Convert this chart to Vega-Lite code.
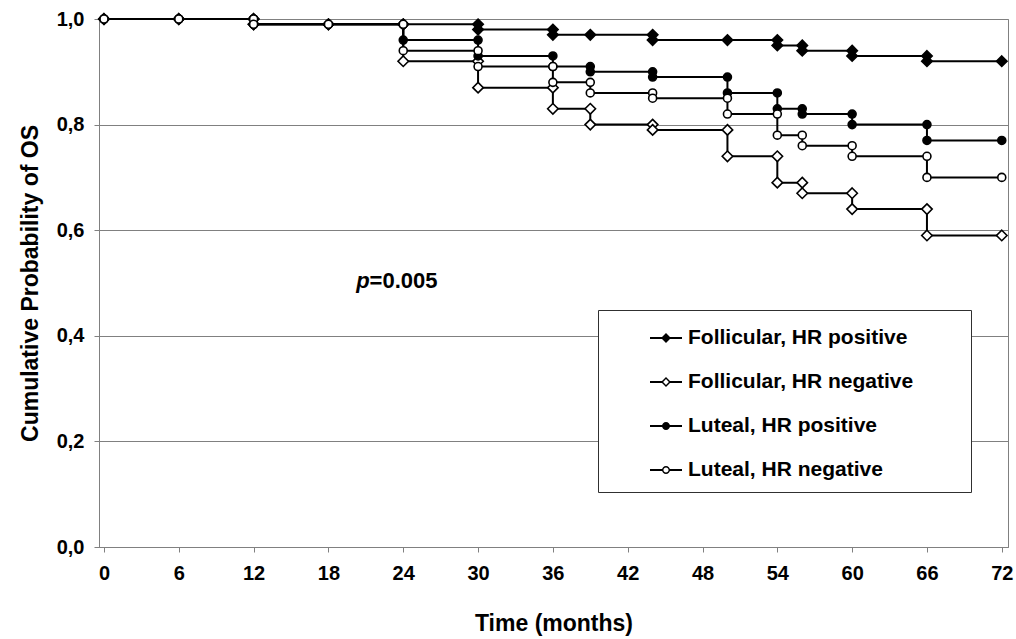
{
  "$schema": "https://vega.github.io/schema/vega-lite/v6.json",
  "width": 909,
  "height": 528,
  "autosize": {"type": "none"},
  "padding": {"left": 99, "top": 19, "right": 8, "bottom": 92},
  "background": "white",
  "config": {
    "view": {"stroke": "#808080", "strokeWidth": 1},
    "font": "Liberation Sans",
    "axis": {
      "labelFont": "Liberation Sans", "labelFontWeight": "bold", "labelFontSize": 20, "labelColor": "black",
      "titleFont": "Liberation Sans", "titleFontWeight": "bold", "titleFontSize": 23, "titleColor": "black",
      "domainColor": "#808080", "tickColor": "#808080", "gridColor": "#808080", "gridOpacity": 1
    }
  },
  "datasets": {
    "km": [
      {"g": "Follicular, HR positive", "i": 0, "t": 0, "s": 1},
      {"g": "Follicular, HR positive", "i": 1, "t": 6, "s": 1},
      {"g": "Follicular, HR positive", "i": 2, "t": 12, "s": 1},
      {"g": "Follicular, HR positive", "i": 3, "t": 12, "s": 0.99},
      {"g": "Follicular, HR positive", "i": 4, "t": 18, "s": 0.99},
      {"g": "Follicular, HR positive", "i": 5, "t": 24, "s": 0.99},
      {"g": "Follicular, HR positive", "i": 6, "t": 30, "s": 0.99},
      {"g": "Follicular, HR positive", "i": 7, "t": 30, "s": 0.98},
      {"g": "Follicular, HR positive", "i": 8, "t": 36, "s": 0.98},
      {"g": "Follicular, HR positive", "i": 9, "t": 36, "s": 0.97},
      {"g": "Follicular, HR positive", "i": 10, "t": 39, "s": 0.97},
      {"g": "Follicular, HR positive", "i": 11, "t": 44, "s": 0.97},
      {"g": "Follicular, HR positive", "i": 12, "t": 44, "s": 0.96},
      {"g": "Follicular, HR positive", "i": 13, "t": 50, "s": 0.96},
      {"g": "Follicular, HR positive", "i": 14, "t": 54, "s": 0.96},
      {"g": "Follicular, HR positive", "i": 15, "t": 54, "s": 0.95},
      {"g": "Follicular, HR positive", "i": 16, "t": 56, "s": 0.95},
      {"g": "Follicular, HR positive", "i": 17, "t": 56, "s": 0.94},
      {"g": "Follicular, HR positive", "i": 18, "t": 60, "s": 0.94},
      {"g": "Follicular, HR positive", "i": 19, "t": 60, "s": 0.93},
      {"g": "Follicular, HR positive", "i": 20, "t": 66, "s": 0.93},
      {"g": "Follicular, HR positive", "i": 21, "t": 66, "s": 0.92},
      {"g": "Follicular, HR positive", "i": 22, "t": 72, "s": 0.92},

      {"g": "Follicular, HR negative", "i": 0, "t": 0, "s": 1},
      {"g": "Follicular, HR negative", "i": 1, "t": 6, "s": 1},
      {"g": "Follicular, HR negative", "i": 2, "t": 12, "s": 1},
      {"g": "Follicular, HR negative", "i": 3, "t": 12, "s": 0.99},
      {"g": "Follicular, HR negative", "i": 4, "t": 18, "s": 0.99},
      {"g": "Follicular, HR negative", "i": 5, "t": 24, "s": 0.99},
      {"g": "Follicular, HR negative", "i": 6, "t": 24, "s": 0.92},
      {"g": "Follicular, HR negative", "i": 7, "t": 30, "s": 0.92},
      {"g": "Follicular, HR negative", "i": 8, "t": 30, "s": 0.87},
      {"g": "Follicular, HR negative", "i": 9, "t": 36, "s": 0.87},
      {"g": "Follicular, HR negative", "i": 10, "t": 36, "s": 0.83},
      {"g": "Follicular, HR negative", "i": 11, "t": 39, "s": 0.83},
      {"g": "Follicular, HR negative", "i": 12, "t": 39, "s": 0.80},
      {"g": "Follicular, HR negative", "i": 13, "t": 44, "s": 0.80},
      {"g": "Follicular, HR negative", "i": 14, "t": 44, "s": 0.79},
      {"g": "Follicular, HR negative", "i": 15, "t": 50, "s": 0.79},
      {"g": "Follicular, HR negative", "i": 16, "t": 50, "s": 0.74},
      {"g": "Follicular, HR negative", "i": 17, "t": 54, "s": 0.74},
      {"g": "Follicular, HR negative", "i": 18, "t": 54, "s": 0.69},
      {"g": "Follicular, HR negative", "i": 19, "t": 56, "s": 0.69},
      {"g": "Follicular, HR negative", "i": 20, "t": 56, "s": 0.67},
      {"g": "Follicular, HR negative", "i": 21, "t": 60, "s": 0.67},
      {"g": "Follicular, HR negative", "i": 22, "t": 60, "s": 0.64},
      {"g": "Follicular, HR negative", "i": 23, "t": 66, "s": 0.64},
      {"g": "Follicular, HR negative", "i": 24, "t": 66, "s": 0.59},
      {"g": "Follicular, HR negative", "i": 25, "t": 72, "s": 0.59},

      {"g": "Luteal, HR positive", "i": 0, "t": 0, "s": 1},
      {"g": "Luteal, HR positive", "i": 1, "t": 6, "s": 1},
      {"g": "Luteal, HR positive", "i": 2, "t": 12, "s": 1},
      {"g": "Luteal, HR positive", "i": 3, "t": 12, "s": 0.99},
      {"g": "Luteal, HR positive", "i": 4, "t": 18, "s": 0.99},
      {"g": "Luteal, HR positive", "i": 5, "t": 24, "s": 0.99},
      {"g": "Luteal, HR positive", "i": 6, "t": 24, "s": 0.96},
      {"g": "Luteal, HR positive", "i": 7, "t": 30, "s": 0.96},
      {"g": "Luteal, HR positive", "i": 8, "t": 30, "s": 0.93},
      {"g": "Luteal, HR positive", "i": 9, "t": 36, "s": 0.93},
      {"g": "Luteal, HR positive", "i": 10, "t": 36, "s": 0.91},
      {"g": "Luteal, HR positive", "i": 11, "t": 39, "s": 0.91},
      {"g": "Luteal, HR positive", "i": 12, "t": 39, "s": 0.90},
      {"g": "Luteal, HR positive", "i": 13, "t": 44, "s": 0.90},
      {"g": "Luteal, HR positive", "i": 14, "t": 44, "s": 0.89},
      {"g": "Luteal, HR positive", "i": 15, "t": 50, "s": 0.89},
      {"g": "Luteal, HR positive", "i": 16, "t": 50, "s": 0.86},
      {"g": "Luteal, HR positive", "i": 17, "t": 54, "s": 0.86},
      {"g": "Luteal, HR positive", "i": 18, "t": 54, "s": 0.83},
      {"g": "Luteal, HR positive", "i": 19, "t": 56, "s": 0.83},
      {"g": "Luteal, HR positive", "i": 20, "t": 56, "s": 0.82},
      {"g": "Luteal, HR positive", "i": 21, "t": 60, "s": 0.82},
      {"g": "Luteal, HR positive", "i": 22, "t": 60, "s": 0.80},
      {"g": "Luteal, HR positive", "i": 23, "t": 66, "s": 0.80},
      {"g": "Luteal, HR positive", "i": 24, "t": 66, "s": 0.77},
      {"g": "Luteal, HR positive", "i": 25, "t": 72, "s": 0.77},

      {"g": "Luteal, HR negative", "i": 0, "t": 0, "s": 1},
      {"g": "Luteal, HR negative", "i": 1, "t": 6, "s": 1},
      {"g": "Luteal, HR negative", "i": 2, "t": 12, "s": 1},
      {"g": "Luteal, HR negative", "i": 3, "t": 12, "s": 0.99},
      {"g": "Luteal, HR negative", "i": 4, "t": 18, "s": 0.99},
      {"g": "Luteal, HR negative", "i": 5, "t": 24, "s": 0.99},
      {"g": "Luteal, HR negative", "i": 6, "t": 24, "s": 0.94},
      {"g": "Luteal, HR negative", "i": 7, "t": 30, "s": 0.94},
      {"g": "Luteal, HR negative", "i": 8, "t": 30, "s": 0.91},
      {"g": "Luteal, HR negative", "i": 9, "t": 36, "s": 0.91},
      {"g": "Luteal, HR negative", "i": 10, "t": 36, "s": 0.88},
      {"g": "Luteal, HR negative", "i": 11, "t": 39, "s": 0.88},
      {"g": "Luteal, HR negative", "i": 12, "t": 39, "s": 0.86},
      {"g": "Luteal, HR negative", "i": 13, "t": 44, "s": 0.86},
      {"g": "Luteal, HR negative", "i": 14, "t": 44, "s": 0.85},
      {"g": "Luteal, HR negative", "i": 15, "t": 50, "s": 0.85},
      {"g": "Luteal, HR negative", "i": 16, "t": 50, "s": 0.82},
      {"g": "Luteal, HR negative", "i": 17, "t": 54, "s": 0.82},
      {"g": "Luteal, HR negative", "i": 18, "t": 54, "s": 0.78},
      {"g": "Luteal, HR negative", "i": 19, "t": 56, "s": 0.78},
      {"g": "Luteal, HR negative", "i": 20, "t": 56, "s": 0.76},
      {"g": "Luteal, HR negative", "i": 21, "t": 60, "s": 0.76},
      {"g": "Luteal, HR negative", "i": 22, "t": 60, "s": 0.74},
      {"g": "Luteal, HR negative", "i": 23, "t": 66, "s": 0.74},
      {"g": "Luteal, HR negative", "i": 24, "t": 66, "s": 0.70},
      {"g": "Luteal, HR negative", "i": 25, "t": 72, "s": 0.70}
    ],
    "ann": [
      {"t": 21.3, "s": 0.504, "p": "p", "rest": "=0.005"}
    ]
  },
  "layer": [
    {
      "data": {"name": "km"},
      "mark": {"type": "line", "color": "black", "strokeWidth": 2},
      "encoding": {
        "x": {"field": "t", "type": "quantitative",
          "scale": {"domain": [-0.4, 72.5], "nice": false, "zero": false},
          "axis": {"values": [0, 6, 12, 18, 24, 30, 36, 42, 48, 54, 60, 66, 72], "title": "Time (months)", "grid": false, "tickSize": 5, "labelPadding": 11, "titlePadding": 29, "labelFlush": false}},
        "y": {"field": "s", "type": "quantitative",
          "scale": {"domain": [0, 1], "nice": false, "zero": true},
          "axis": {"values": [0, 0.2, 0.4, 0.6, 0.8, 1], "labelExpr": "replace(format(datum.value, '.1f'), '.', ',')", "title": "Cumulative Probability of OS", "grid": true, "tickSize": 5, "labelPadding": 10, "titlePadding": 14, "labelFlush": false}},
        "detail": {"field": "g"},
        "order": {"field": "i", "type": "quantitative"}
      }
    },
    {
      "data": {"name": "km"},
      "transform": [{"filter": "indexof(datum.g, 'Follicular') === 0"}],
      "mark": {"type": "point", "shape": "M0,-1L1,0L0,1L-1,0Z", "filled": true, "stroke": "black", "strokeWidth": 1.6, "opacity": 1, "size": 110},
      "encoding": {
        "x": {"field": "t", "type": "quantitative"},
        "y": {"field": "s", "type": "quantitative"},
        "fill": {"field": "g", "type": "nominal",
          "scale": {"domain": ["Follicular, HR negative", "Luteal, HR negative", "Follicular, HR positive", "Luteal, HR positive"],
            "range": ["white", "white", "black", "black"]},
          "legend": null}
      }
    },
    {
      "data": {"name": "km"},
      "transform": [{"filter": "indexof(datum.g, 'Luteal') === 0"}],
      "mark": {"type": "point", "shape": "M-0.76,0A0.76,0.76,0,1,0,0.76,0A0.76,0.76,0,1,0,-0.76,0Z", "filled": true, "stroke": "black", "strokeWidth": 1.6, "opacity": 1, "size": 110},
      "encoding": {
        "x": {"field": "t", "type": "quantitative"},
        "y": {"field": "s", "type": "quantitative"},
        "fill": {"field": "g", "type": "nominal",
          "scale": {"domain": ["Follicular, HR negative", "Luteal, HR negative", "Follicular, HR positive", "Luteal, HR positive"],
            "range": ["white", "white", "black", "black"]},
          "legend": null}
      }
    },
    {
      "data": {"name": "km"},
      "transform": [{"filter": "false"}],
      "mark": {"type": "point", "filled": true, "color": "black", "opacity": 1},
      "encoding": {
        "x": {"field": "t", "type": "quantitative"},
        "y": {"field": "s", "type": "quantitative"},
        "shape": {"field": "g", "type": "nominal",
          "scale": {"domain": ["Follicular, HR positive", "Follicular, HR negative", "Luteal, HR positive", "Luteal, HR negative"],
            "range": [
              "M-1,-0.07H-0.2V0.07H-1Z M0.2,-0.07H1V0.07H0.2Z M0,-0.31L0.31,0L0,0.31L-0.31,0Z",
              "M-1,-0.07H-0.2V0.07H-1Z M0.2,-0.07H1V0.07H0.2Z M0,-0.31L0.31,0L0,0.31L-0.31,0Z M0,-0.18L-0.18,0L0,0.18L0.18,0Z",
              "M-1,-0.07H-0.24V0.07H-1Z M0.24,-0.07H1V0.07H0.24Z M-0.25,0A0.25,0.25,0,1,1,0.25,0A0.25,0.25,0,1,1,-0.25,0Z",
              "M-1,-0.07H-0.24V0.07H-1Z M0.24,-0.07H1V0.07H0.24Z M-0.25,0A0.25,0.25,0,1,1,0.25,0A0.25,0.25,0,1,1,-0.25,0Z M-0.16,0A0.16,0.16,0,1,0,0.16,0A0.16,0.16,0,1,0,-0.16,0Z"
            ]},
          "legend": {
            "title": null, "orient": "none", "legendX": 499, "legendY": 291, "padding": 12,
            "strokeColor": "#303030", "fillColor": "white",
            "symbolSize": 1024, "symbolStrokeWidth": 0,
            "rowPadding": 18, "symbolOffset": 40, "labelOffset": 6, "labelLimit": 600,
            "labelFont": "Liberation Sans", "labelFontWeight": "bold", "labelFontSize": 21, "labelColor": "black",
            "labelExpr": "datum.label + '\u2800\u2800\u2800'"
          }}
      }
    },
    {
      "data": {"name": "ann"},
      "mark": {"type": "text", "align": "right", "baseline": "middle", "font": "Liberation Sans", "fontWeight": "bold", "fontStyle": "italic", "fontSize": 22, "color": "black"},
      "encoding": {
        "x": {"field": "t", "type": "quantitative"},
        "y": {"field": "s", "type": "quantitative"},
        "text": {"field": "p"}
      }
    },
    {
      "data": {"name": "ann"},
      "mark": {"type": "text", "align": "left", "baseline": "middle", "font": "Liberation Sans", "fontWeight": "bold", "fontSize": 22, "color": "black"},
      "encoding": {
        "x": {"field": "t", "type": "quantitative"},
        "y": {"field": "s", "type": "quantitative"},
        "text": {"field": "rest"}
      }
    }
  ]
}
